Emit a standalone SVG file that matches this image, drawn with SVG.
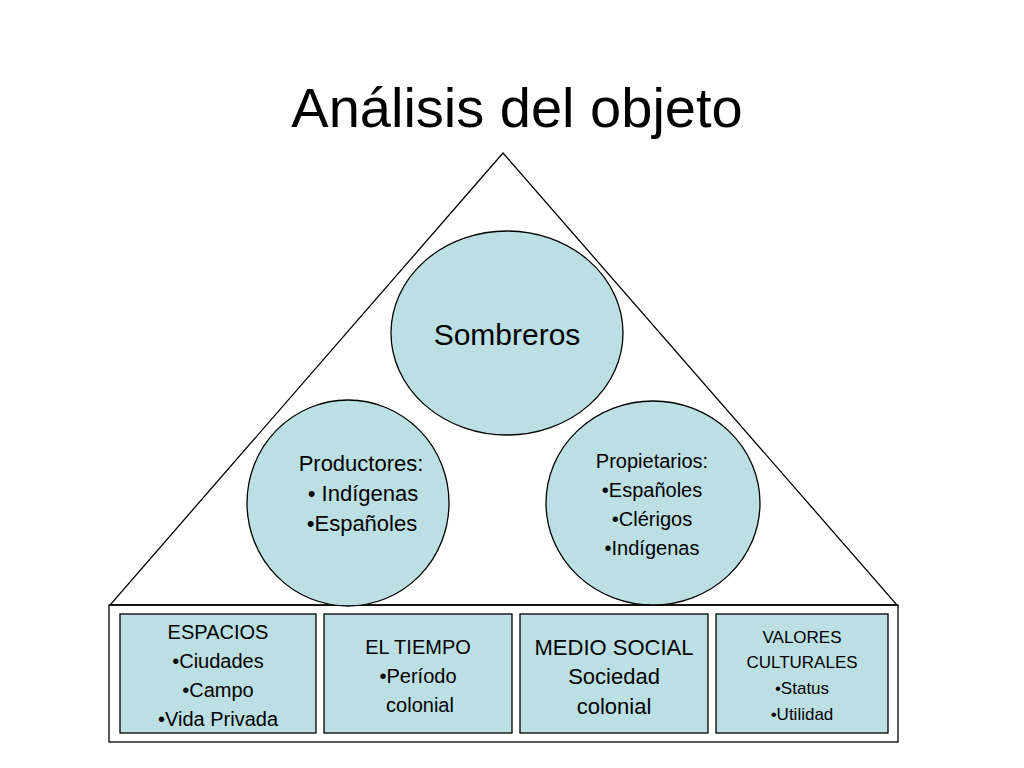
<svg xmlns="http://www.w3.org/2000/svg" width="1024" height="768" viewBox="0 0 1024 768">
<style>
text{font-family:"Liberation Sans",Arial,sans-serif;fill:#000;text-anchor:middle}
.n{fill:#bbdfe3;stroke:#000;stroke-width:1.3}
.o{fill:none;stroke:#000;stroke-width:1.3}
</style>
<rect width="1024" height="768" fill="#fff"/>
<text x="517" y="127" font-size="56">Análisis del objeto</text>
<g id="frame">
<polygon class="o" points="503,153 110,605 897,605"/>
<rect class="o" x="109" y="605" width="789" height="137"/>
</g>
<g id="sombreros"><ellipse class="n" cx="507" cy="333" rx="116" ry="102"/><text x="507" y="345" font-size="30">Sombreros</text></g>
<g id="productores"><ellipse class="n" cx="348" cy="503" rx="101" ry="103"/>
<text font-size="22"><tspan x="361" y="471">Productores:</tspan><tspan x="363" y="501">• Indígenas</tspan><tspan x="362" y="531">•Españoles</tspan></text></g>
<g id="propietarios"><ellipse class="n" cx="653" cy="503" rx="107" ry="102"/>
<text font-size="20"><tspan x="652" y="468">Propietarios:</tspan><tspan x="652" y="497">•Españoles</tspan><tspan x="652" y="526">•Clérigos</tspan><tspan x="652" y="555">•Indígenas</tspan></text></g>
<g id="espacios"><rect class="n" x="120" y="614" width="196" height="119"/>
<text font-size="20"><tspan x="218" y="639">ESPACIOS</tspan><tspan x="218" y="668">•Ciudades</tspan><tspan x="218" y="697">•Campo</tspan><tspan x="218" y="726">•Vida Privada</tspan></text></g>
<g id="tiempo"><rect class="n" x="324" y="614" width="188" height="119"/>
<text font-size="20"><tspan x="418" y="654">EL TIEMPO</tspan><tspan x="418" y="683">•Período</tspan><tspan x="420" y="712">colonial</tspan></text></g>
<g id="medio"><rect class="n" x="520" y="614" width="188" height="119"/>
<text font-size="22"><tspan x="614" y="655">MEDIO SOCIAL</tspan><tspan x="614" y="684">Sociedad</tspan><tspan x="614" y="714">colonial</tspan></text></g>
<g id="valores"><rect class="n" x="716" y="614" width="172" height="119"/>
<text font-size="17"><tspan x="802" y="643">VALORES</tspan><tspan x="802" y="668">CULTURALES</tspan><tspan x="802" y="694">•Status</tspan><tspan x="802" y="720">•Utilidad</tspan></text></g>
<g id="connectors"></g>
</svg>
